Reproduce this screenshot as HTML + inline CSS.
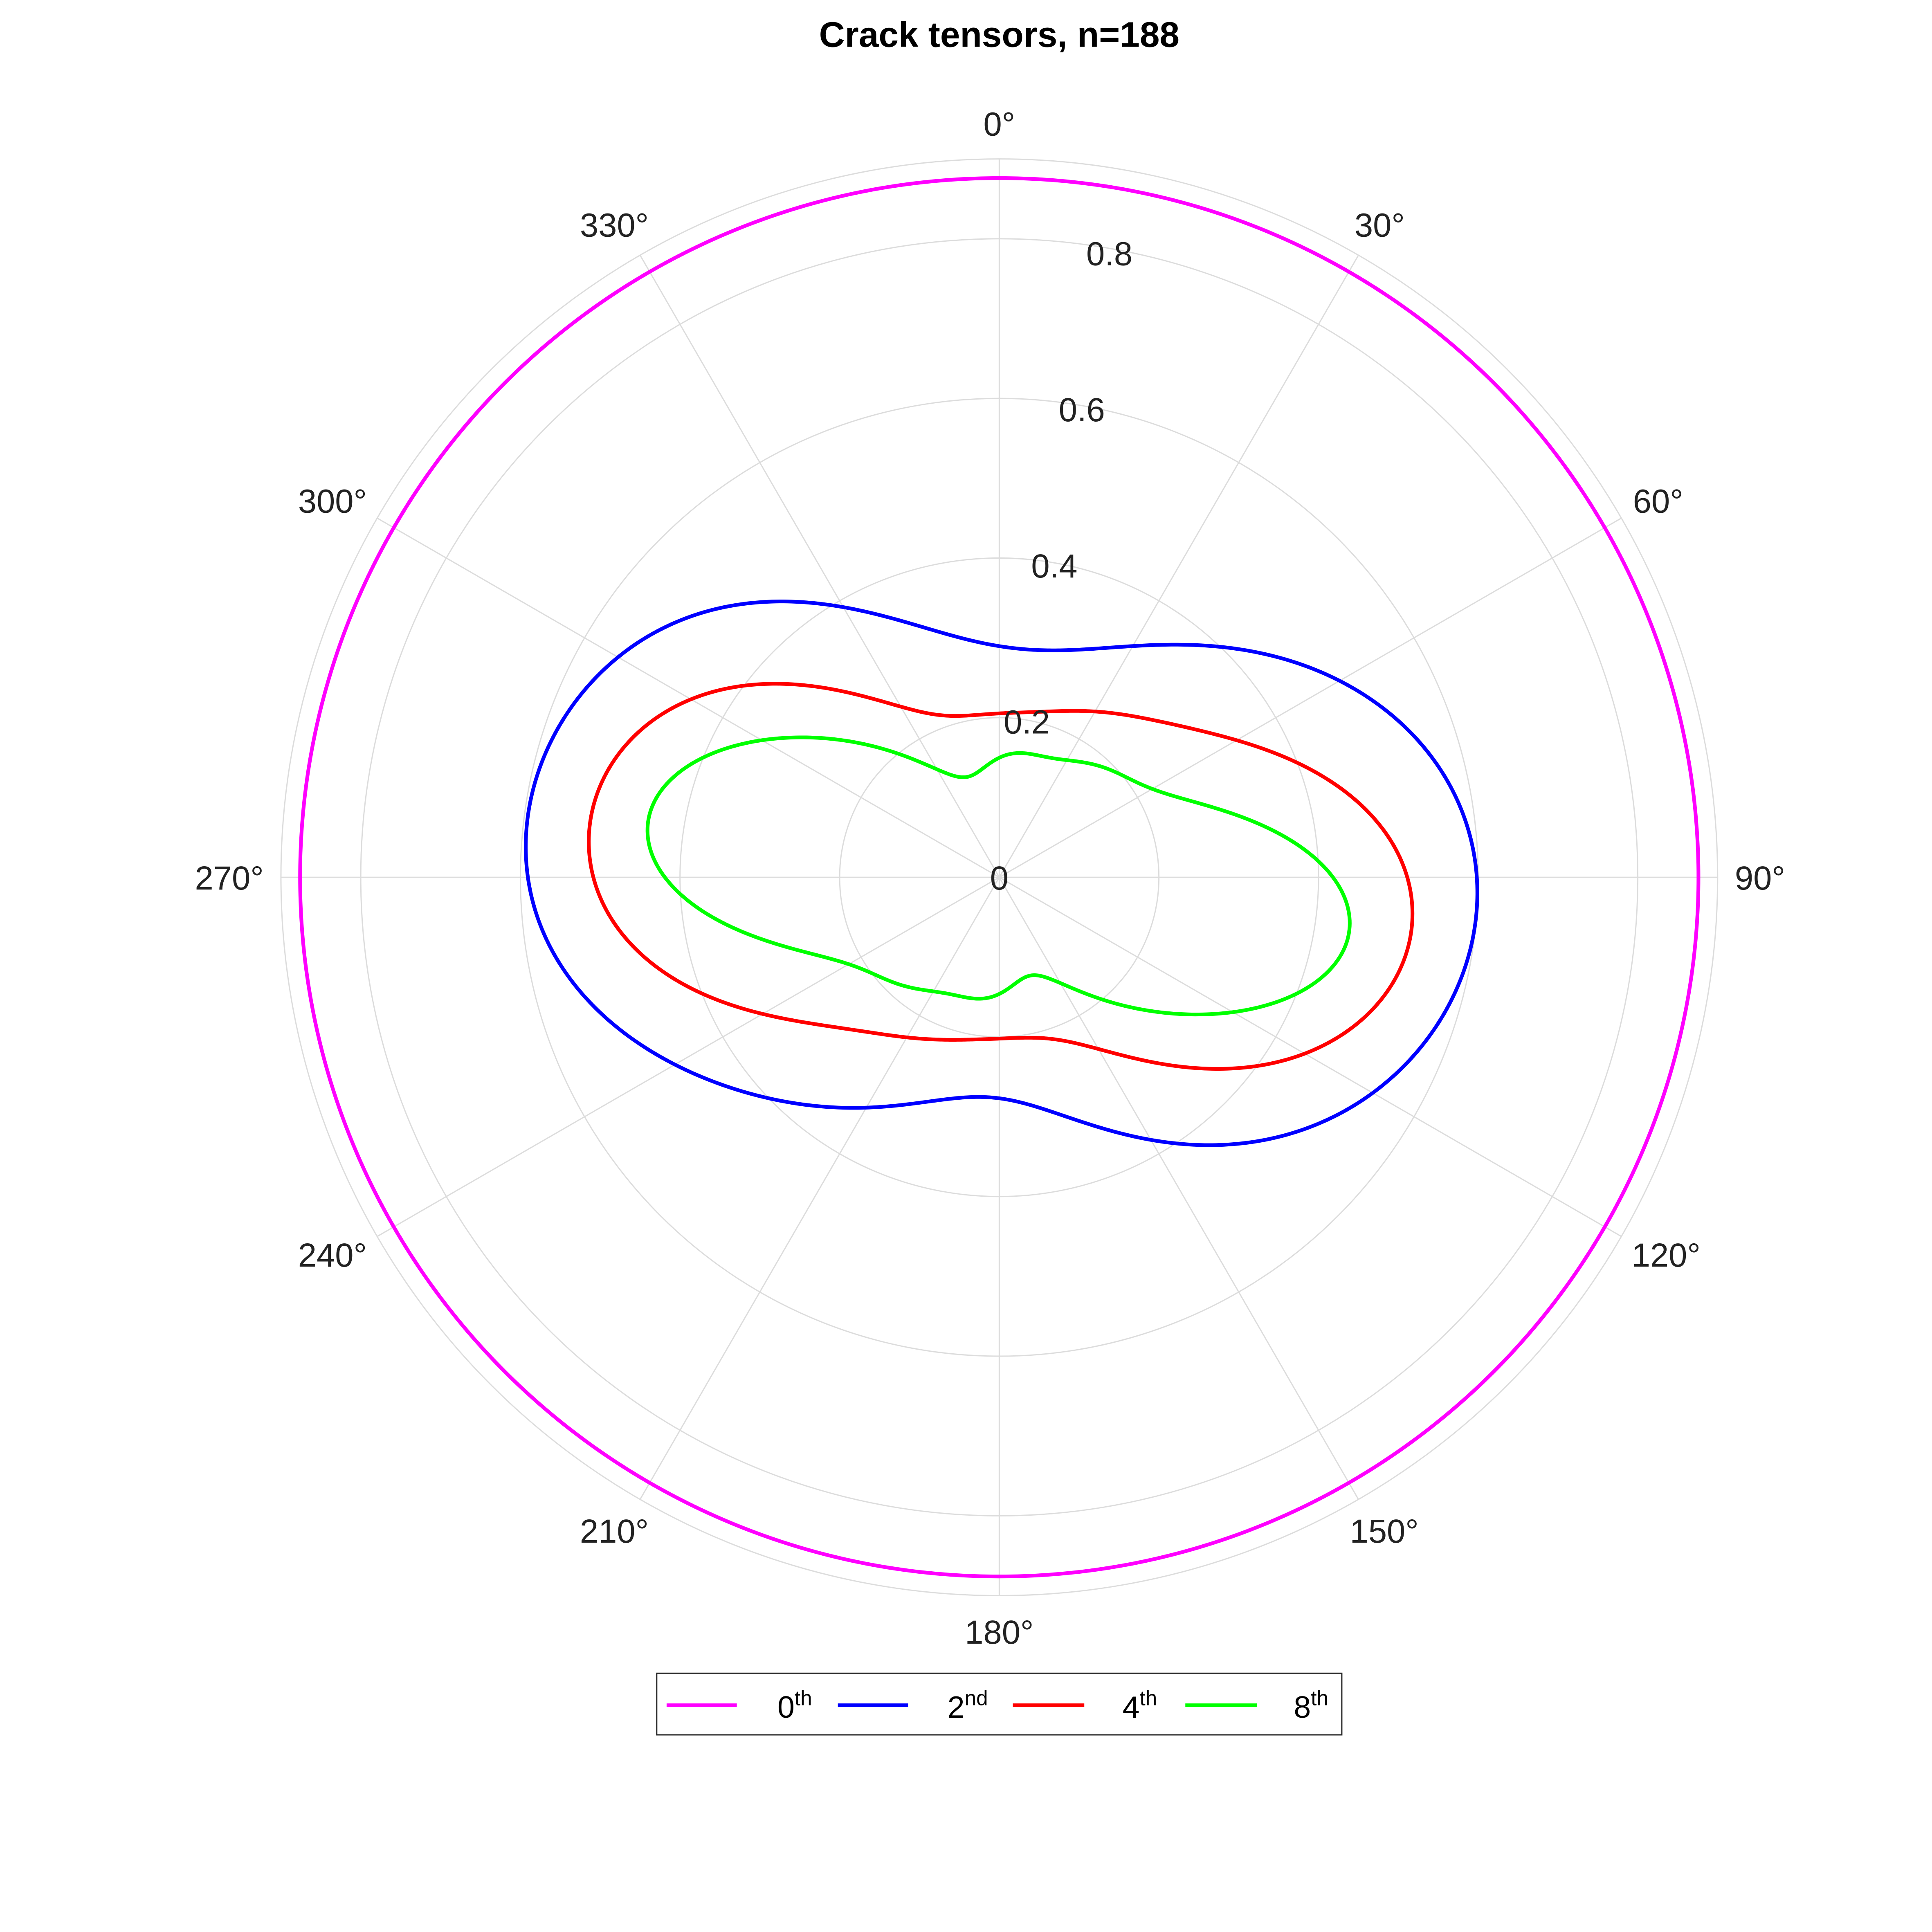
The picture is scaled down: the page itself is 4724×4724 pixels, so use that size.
<!DOCTYPE html>
<html><head><meta charset="utf-8"><style>
html,body{margin:0;padding:0;background:#fff;}
svg{display:block;font-family:"Liberation Sans",Arial,sans-serif;}
</style></head><body>
<svg id="chart" width="4724" height="4724" viewBox="0 0 1568 1568" xmlns="http://www.w3.org/2000/svg">
<rect width="1568" height="1568" fill="#fff"/>
<text x="811" y="38" text-anchor="middle" font-size="29" font-weight="bold" fill="#000">Crack tensors, n=188</text>
<g id="grid"></g>
<g id="series"></g>
<g id="labels"></g>
<g>
<rect x="533" y="1358" width="556" height="50" fill="#fff" stroke="#222" stroke-width="1"/>
<g><line x1="541" y1="1384" x2="598" y2="1384" stroke="#ff00ff" stroke-width="3"/><text x="631" y="1394" font-size="25">0<tspan font-size="17" dy="-10">th</tspan></text></g>
<g><line x1="680" y1="1384" x2="737" y2="1384" stroke="#0000ff" stroke-width="3"/><text x="769" y="1394" font-size="25">2<tspan font-size="17" dy="-10">nd</tspan></text></g>
<g><line x1="822" y1="1384" x2="880" y2="1384" stroke="#ff0000" stroke-width="3"/><text x="911" y="1394" font-size="25">4<tspan font-size="17" dy="-10">th</tspan></text></g>
<g><line x1="962" y1="1384" x2="1020" y2="1384" stroke="#00ff00" stroke-width="3"/><text x="1050" y="1394" font-size="25">8<tspan font-size="17" dy="-10">th</tspan></text></g>
</g>
</svg>
<script>
const angles = [0,10,20,30,40,50,60,70,80,90,100,110,120,130,140,150,160,170,180,190,200,210,220,230,240,250,260,270,280,290,300,310,320,330,340,350];
const series0 = [0.876,0.876,0.876,0.876,0.876,0.876,0.876,0.876,0.876,0.876,0.876,0.876,0.876,0.876,0.876,0.876,0.876,0.876,0.876,0.876,0.876,0.876,0.876,0.876,0.876,0.876,0.876,0.876,0.876,0.876,0.876,0.876,0.876,0.876,0.876,0.876];
const series2 = [0.293,0.287,0.30,0.34,0.38,0.43,0.495,0.545,0.58,0.597,0.595,0.578,0.54,0.49,0.44,0.38,0.33,0.29,0.28,0.28,0.30,0.335,0.37,0.42,0.47,0.52,0.565,0.592,0.595,0.58,0.55,0.51,0.45,0.39,0.34,0.305];
const series4 = [0.207,0.21,0.22,0.24,0.265,0.295,0.34,0.41,0.47,0.51,0.518,0.495,0.445,0.37,0.30,0.255,0.215,0.2,0.205,0.208,0.215,0.23,0.255,0.29,0.34,0.41,0.47,0.51,0.515,0.495,0.445,0.38,0.30,0.25,0.215,0.205];
const series8 = [0.153,0.157,0.16,0.17,0.185,0.2,0.22,0.27,0.345,0.42,0.44,0.41,0.34,0.26,0.2,0.155,0.13,0.13,0.15,0.153,0.157,0.165,0.18,0.195,0.215,0.27,0.345,0.42,0.442,0.415,0.345,0.265,0.205,0.16,0.13,0.135];
const radialTicks = [0.2,0.4,0.6,0.8];
const radialTickLabels = ["0.2","0.4","0.6","0.8"];
const gridRings = [0.2,0.4,0.6,0.8,0.9];
const angleTicks = [0,30,60,90,120,150,180,210,240,270,300,330];

const NS="http://www.w3.org/2000/svg";
const cx=811, cy=712, rMax=0.9, pxMax=583;
function rScale(v){return v/rMax*pxMax;}
function pt(deg,v){const a=deg*Math.PI/180;const r=rScale(v);return [cx+r*Math.sin(a), cy-r*Math.cos(a)];}
function mk(tag,attrs,parent){const e=document.createElementNS(NS,tag);for(const k in attrs)e.setAttribute(k,attrs[k]);parent.appendChild(e);return e;}

const grid=document.getElementById('grid');
gridRings.forEach(v=>{
  const c=mk('circle',{cx:cx,cy:cy,r:rScale(v),fill:'none',stroke:'#dcdcdc','stroke-width':1},grid);
  
  
});
angleTicks.forEach(a=>{
  const p=pt(a,rMax);
  const l=mk('line',{x1:cx,y1:cy,x2:p[0],y2:p[1],stroke:'#dcdcdc','stroke-width':1},grid);
  
  
});

const sg=document.getElementById('series');
function drawSeries(vals,color,name){
  const n=vals.length, H=8;
  const A=[],B=[];
  for(let k=0;k<=H;k++){
    let a=0,b=0;
    for(let i=0;i<n;i++){const t=angles[i]*Math.PI/180;a+=vals[i]*Math.cos(k*t);b+=vals[i]*Math.sin(k*t);}
    A.push(a/n*(k?2:1));B.push(b/n*(k?2:1));
  }
  const pts=[];
  for(let s=0;s<720;s++){
    const deg=s/2, t=deg*Math.PI/180;
    let v=0;
    for(let k=0;k<=H;k++){v+=A[k]*Math.cos(k*t)+B[k]*Math.sin(k*t);}
    pts.push(pt(deg,v));
  }
  const d='M'+pts.map(p=>p[0].toFixed(2)+','+p[1].toFixed(2)).join('L')+'Z';
  const path=mk('path',{d:d,fill:'none',stroke:color,'stroke-width':3,'stroke-linejoin':'round'},sg);
  
  
}
drawSeries(series0,'#ff00ff','series-0th');
drawSeries(series2,'#0000ff','series-2nd');
drawSeries(series4,'#ff0000','series-4th');
drawSeries(series8,'#00ff00','series-8th');

const lg=document.getElementById('labels');
angleTicks.forEach(a=>{
  const p=pt(a,612/pxMax*rMax);
  const t=mk('text',{x:p[0],y:p[1]+10,'text-anchor':'middle','font-size':27,fill:'#222'},lg);
  t.textContent=a+'°';
  
  
  const hw=t.getComputedTextLength()/2;
  const s=Math.sin(a*Math.PI/180);
  t.setAttribute('x',(p[0]+s*(hw-15)).toFixed(2));
});
const z=mk('text',{x:cx,y:cy+10,'text-anchor':'middle','font-size':27,fill:'#222'},lg);
z.textContent='0';


radialTicks.forEach((v,i)=>{
  const p=pt(10,v*0.993);
  const t=mk('text',{x:p[0],y:p[1]+10,'text-anchor':'middle','font-size':27,fill:'#222'},lg);
  t.textContent=radialTickLabels[i];
  
  
});
</script>
</body></html>
